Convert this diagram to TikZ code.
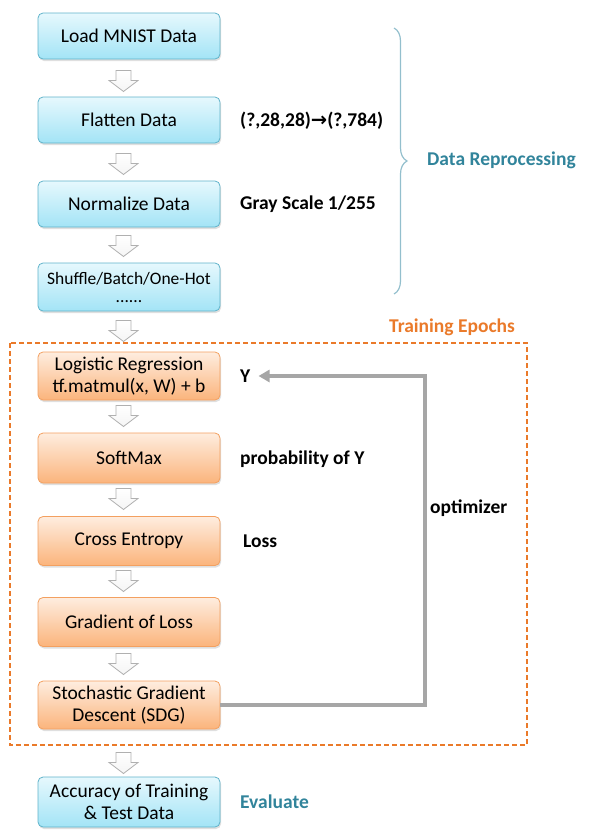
\documentclass[tikz,border=0pt]{standalone}
\usepackage{fontspec}
\setmainfont{Carlito}
\newfontfamily\dejavu{DejaVu Sans}
\usetikzlibrary{arrows.meta,decorations.pathreplacing,shadows}
\definecolor{bluetop}{HTML}{E6F8FD}
\definecolor{bluebot}{HTML}{A3E4F6}
\definecolor{blueborder}{HTML}{5FB3CA}
\definecolor{orangetop}{HTML}{FEEDDF}
\definecolor{orangebot}{HTML}{FBB47C}
\definecolor{orangeborder}{HTML}{F3A060}
\definecolor{dashorange}{HTML}{EA7A2A}
\definecolor{teal}{HTML}{31849B}
\definecolor{bracecol}{HTML}{93BFCD}
\definecolor{fbgray}{HTML}{A6A6A6}
\definecolor{blkgray}{HTML}{B0B0B0}
\tikzset{
  box/.style={rounded corners=5pt, minimum width=182pt, minimum height=46pt, align=center,
    font=\fontsize{19.5}{22.5}\selectfont, inner sep=1pt,
    drop shadow={opacity=0.25, shadow xshift=1pt, shadow yshift=-2pt}},
  bluebox/.style={box, draw=blueborder, line width=0.8pt, top color=bluetop, bottom color=bluebot},
  orangebox/.style={box, draw=orangeborder, line width=0.8pt, top color=orangetop, bottom color=orangebot},
  lab/.style={anchor=west, font=\fontsize{19.5}{22}\selectfont\bfseries, inner sep=0pt},
  blk/.style={draw=blkgray, top color=white, bottom color=gray!8, line width=0.8pt, line join=miter},
  fb/.style={draw=fbgray, line width=4pt, -{Triangle[length=11pt,width=12pt]}}
}
\begin{document}
\begin{tikzpicture}[x=1pt,y=-1pt]
\useasboundingbox (0,0) rectangle (590,833);
% block arrows
\foreach \c in {81,164,246,331,416,499,581,664,763}{
  \draw[blk] (116,\c-10.5) -- (131,\c-10.5) -- (131,\c-0.5) -- (138,\c-0.5) -- (123.5,\c+10.5)
    -- (109,\c-0.5) -- (116,\c-0.5) -- cycle;
}
% dashed training region
\draw[draw=dashorange, line width=1.2pt, dash pattern=on 5pt off 3pt] (10,343) rectangle (527,745);
\node[font=\fontsize{19.5}{22}\selectfont\bfseries, text=dashorange] (te) at (452,327) {Training Epochs};

% boxes
\node[bluebox] (load) at (129,36) {Load MNIST Data};
\node[bluebox] (flat) at (129,120) {Flatten Data};
\node[bluebox] (norm) at (129,204) {Normalize Data};
\node[bluebox, font=\fontsize{17.5}{18}\selectfont, minimum height=48pt] (shuf) at (129,287) {Shuffle/Batch/One-Hot\\......};
\node[orangebox, minimum height=48pt] (logi) at (129,376) {Logistic Regression\\tf.matmul(x, W) + b};
\node[orangebox, minimum height=50pt] (soft) at (129,458) {SoftMax};
\node[orangebox, minimum height=49pt] (cross) at (129,541) {Cross Entropy};
\node[orangebox, minimum height=49pt] (grad) at (129,622) {Gradient of Loss};
\node[orangebox, minimum height=48pt] (sdg) at (129,705) {Stochastic Gradient\\Descent (SDG)};
\node[bluebox, minimum height=50pt] (acc) at (129,802) {Accuracy of Training\\\& Test Data};

% labels
\node[lab] (shape) at (240,121) {(?,28,28){\dejavu\fontsize{19.5}{20}\selectfont →}(?,784)};
\node[lab] (gray) at (240,204) {Gray Scale 1/255};
\node[lab] (ylab) at (240,376) {Y};
\node[lab] (prob) at (240,459) {probability of Y};
\node[lab] (loss) at (243,541) {Loss};
\node[lab] (opt) at (430,508) {optimizer};
\node[lab, text=teal] (eval) at (240,802) {Evaluate};
\node[lab, text=teal] (dr) at (427,160) {Data Reprocessing};

% brace
\draw[bracecol, line width=1.2pt, decorate, decoration={brace, amplitude=13pt}] (394,28) -- (394,294);

% feedback arrow
\coordinate (rx) at (425,0);
\draw[fb] (sdg.east) -| (rx |- ylab.east) -- ([xshift=8pt]ylab.east);
\end{tikzpicture}
\end{document}
